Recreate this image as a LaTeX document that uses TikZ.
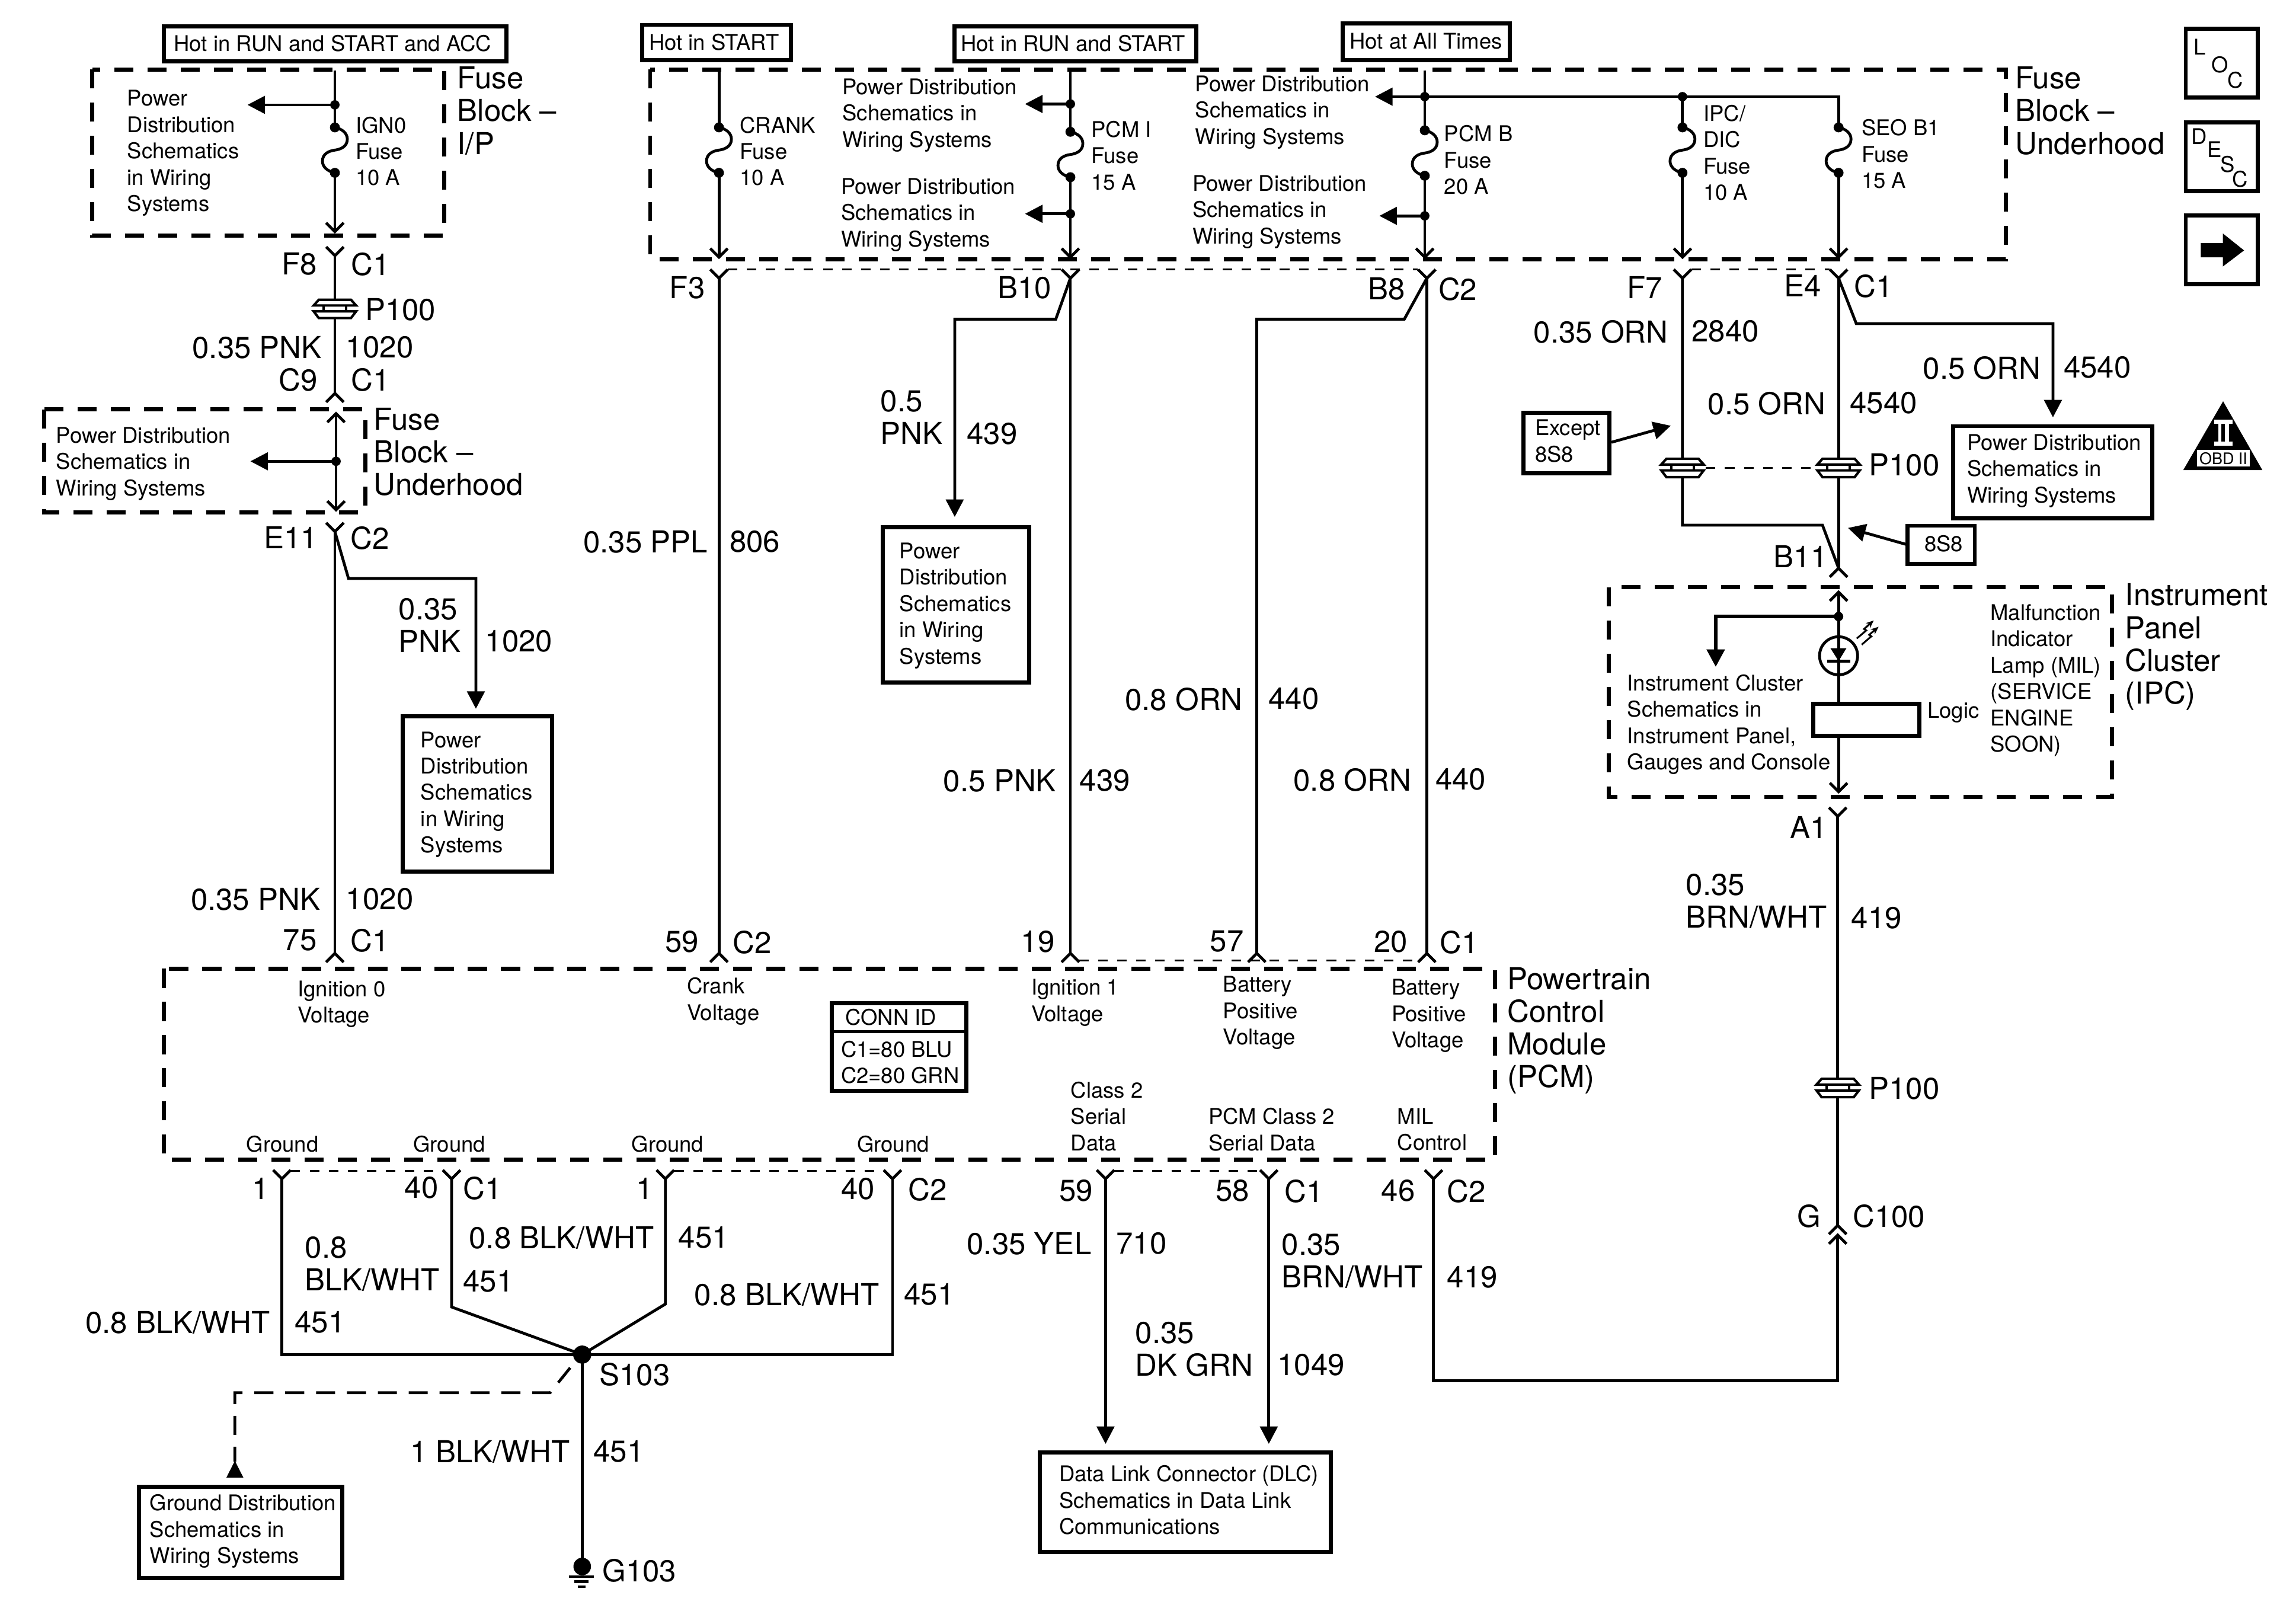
\documentclass[tikz,border=0pt]{standalone}
\usepackage{fontspec}
\setmainfont{TeX Gyre Heros}
\usetikzlibrary{arrows.meta}
\newcount\lblcount
\tikzset{
  wire/.style={line width=1.1pt,line join=miter},
  solidarrow/.style={wire,-{Triangle[length=6.8pt,width=6.8pt]}},
  openarrow/.style={wire,-{Straight Barb[length=3.4pt,width=6.8pt,line width=1.1pt]}},
  thindash/.style={line width=0.6pt,dash pattern=on 3.7pt off 3.7pt},
  dashbox/.style={line width=1.6pt,dash pattern=on 7.4pt off 5.5pt},
  gnddash/.style={line width=1.1pt,dash pattern=on 7.4pt off 4.6pt},
  solidbox/.style={line width=1.6pt},
  bigtxt/.style={anchor=north west,inner sep=0pt,align=left,font=\fontsize{11.75}{12.7}\selectfont},
  smalltxt/.style={anchor=north west,inner sep=0pt,align=left,font=\fontsize{8.4}{10.24}\selectfont},
  pics/fuse/.style={code={
    \fill (0,0) circle[radius=3.4];
    \fill (0,31) circle[radius=3.4];
    \draw[wire] (0,0) .. controls (5,1) and (8.5,4) .. (8.5,8) .. controls (8.5,13) and (4,15) .. (0,15.5)
      .. controls (-4,16) and (-8.5,18) .. (-8.5,23) .. controls (-8.5,27) and (-5,30) .. (0,31);
  }},
  pics/yfork/.style={code={\draw[wire] (-6,-6)--(0,0)--(6,-6);}},
  pics/afork/.style={code={\draw[wire] (-6,6)--(0,0)--(6,6);}},
  pics/plug/.style={code={
    \fill[white] (-14.5,-6.5) rectangle (14.5,6.5);
    \draw[line width=0.95pt,line join=miter] (-14.5,-2.4)--(-11,-6.3)--(11,-6.3)--(14.5,-2.4)--cycle;
    \draw[line width=0.95pt,line join=miter] (-14.5,1.6)--(-11,6.2)--(11,6.2)--(14.5,1.6)--cycle;
    \draw[line width=0.95pt] (-7.7,-2.4)--(-7.7,1.6) (7.7,-2.4)--(7.7,1.6);
  }},
}
\newcommand{\Bt}[3]{\global\advance\lblcount by 1
  \node[bigtxt,name=t\the\lblcount] at (#1,#2-8.8) {#3};}
\newcommand{\St}[3]{\global\advance\lblcount by 1
  \node[smalltxt,name=t\the\lblcount] at (#1,#2-6.7) {#3};}
\newcommand{\Dbox}[5]{\coordinate (#1-a) at (#2,#3); \coordinate (#1-b) at (#4,#5);
  \draw[dashbox] (#1-a) rectangle (#1-b);}
\newcommand{\Sbox}[5]{\coordinate (#1-a) at (#2,#3); \coordinate (#1-b) at (#4,#5);
  \draw[solidbox] (#1-a) rectangle (#1-b);}
\begin{document}
\begin{tikzpicture}[x=0.02cm,y=-0.02cm]
\useasboundingbox (0,0) rectangle (1568,1099.7);
% ---- top labelled boxes
\Sbox{hotA}{112}{18}{346}{42}
\St{118.5}{30.5}{Hot in RUN and START and ACC}
\Sbox{hotB}{438.5}{17}{540}{41}
\St{443}{29.5}{Hot in START}
\Sbox{hotC}{652}{18}{817}{42}
\St{656}{30.5}{Hot in RUN and START}
\Sbox{hotD}{917}{16}{1031}{41}
\St{921.5}{29}{Hot at All Times}
% ---- dashed containers
\Dbox{ip}{63}{47.5}{303.5}{161}
\Dbox{uh}{30}{279.5}{249.5}{350}
\Dbox{ub}{444}{47.5}{1370}{177}
\Dbox{pcm}{112}{661.5}{1021}{792}
\Dbox{ipc}{1098.6}{401}{1442.4}{544}
% ---- fuse block I/P
\coordinate (a0) at (228.7,48); \coordinate (a1) at (228.7,71.6); \coordinate (a2) at (228.7,87);
\coordinate (a3) at (228.7,118); \coordinate (a4) at (228.7,159.5); \coordinate (a1t) at (169,71.6);
\draw[wire] (a0)--(a2);
\draw[openarrow] (a3)--(a4);
\fill (a1) circle[radius=3.2];
\draw[solidarrow] (a1)--(a1t);
\pic at (a2) {fuse};
\St{86.6}{68}{Power\\Distribution\\Schematics\\in Wiring\\Systems}
\St{242.6}{86}{IGN0\\Fuse\\10 A}
\Bt{312}{54}{Fuse\\Block –\\I/P}
% ---- F8 to C9
\coordinate (f8) at (228.7,174.6); \coordinate (c9) at (228.7,268.6); \coordinate (p1) at (228.7,211);
\draw[wire] (f8)--(c9);
\pic at (f8) {yfork};
\pic at (c9) {afork};
\pic at (p1) {plug};
\Bt{192}{181}{F8}
\Bt{239.5}{181}{C1}
\Bt{249}{212}{P100}
\Bt{131}{238}{0.35 PNK}
\Bt{236}{238}{1020}
\Bt{190}{260}{C9}
\Bt{239.5}{260}{C1}
% ---- fuse block underhood (left)
\coordinate (b0) at (229.5,349.5); \coordinate (b1) at (229.5,281); \coordinate (b2) at (229.5,315); \coordinate (b2t) at (171,315);
\draw[openarrow] (b2)--(b1);
\draw[openarrow] (b2)--(b0);
\fill (b2) circle[radius=3.2];
\draw[solidarrow] (b2)--(b2t);
\St{38}{298}{Power Distribution\\Schematics in\\Wiring Systems}
\Bt{255}{287}{Fuse\\Block –\\Underhood}
% ---- E11 to pin 75
\coordinate (e11) at (228.7,363); \coordinate (p75) at (228.7,651);
\draw[wire] (e11)--(p75);
\pic at (e11) {yfork};
\pic at (p75) {afork};
\coordinate (e1b) at (238,395); \coordinate (e1c) at (325,395); \coordinate (e1d) at (325,484);
\draw[solidarrow] (e11)--(e1b)--(e1c)--(e1d);
\Bt{180}{368}{E11}
\Bt{239}{368}{C2}
\Bt{272}{417}{0.35\\PNK}
\Bt{331}{439}{1020}
\Sbox{pdA}{275}{489}{377}{595}
\St{287}{506}{Power\\Distribution\\Schematics\\in Wiring\\Systems}
\Bt{130}{615}{0.35 PNK}
\Bt{236}{615}{1020}
\Bt{193}{643}{75}
\Bt{239}{643}{C1}
% ---- CRANK
\coordinate (cr0) at (491,48); \coordinate (cr1) at (491,87); \coordinate (cr2) at (491,118); \coordinate (cr3) at (491,177);
\draw[wire] (cr0)--(cr1);
\draw[openarrow] (cr2)--(cr3);
\pic at (cr1) {fuse};
\St{505}{86}{CRANK\\Fuse\\10 A}
\coordinate (f3) at (491,190); \coordinate (p59) at (491,651);
\draw[wire] (f3)--(p59);
\pic at (f3) {yfork};
\pic at (p59) {afork};
\Bt{457}{197}{F3}
\Bt{398}{371}{0.35 PPL}
\Bt{498}{371}{806}
\Bt{454}{644}{59}
\Bt{500}{644}{C2}
% ---- PCM I
\coordinate (pi0) at (731,48); \coordinate (pi1) at (731,71); \coordinate (pi2) at (731,90); \coordinate (pi3) at (731,121);
\coordinate (pi4) at (731,146); \coordinate (pi5) at (731,177); \coordinate (pi1t) at (700,71); \coordinate (pi4t) at (700,146);
\draw[wire] (pi0)--(pi2);
\draw[openarrow] (pi3)--(pi5);
\pic at (pi2) {fuse};
\fill (pi1) circle[radius=3.2]; \fill (pi4) circle[radius=3.2];
\draw[solidarrow] (pi1)--(pi1t);
\draw[solidarrow] (pi4)--(pi4t);
\St{575}{60}{Power Distribution\\Schematics in\\Wiring Systems}
\St{574}{128}{Power Distribution\\Schematics in\\Wiring Systems}
\St{745}{89}{PCM I\\Fuse\\15 A}
\coordinate (b10) at (731,190); \coordinate (p19) at (731,651);
\draw[wire] (b10)--(p19);
\pic at (b10) {yfork};
\pic at (p19) {afork};
\coordinate (b1a) at (721,218); \coordinate (b1b) at (652,218); \coordinate (b1c) at (652,353);
\draw[solidarrow] (b10)--(b1a)--(b1b)--(b1c);
\Bt{681}{197}{B10}
\Bt{601}{275}{0.5\\PNK}
\Bt{660}{297}{439}
\Sbox{pdB}{603}{360}{703}{466}
\St{614}{377}{Power\\Distribution\\Schematics\\in Wiring\\Systems}
\Bt{644}{534}{0.5 PNK}
\Bt{737}{534}{439}
\Bt{697}{644}{19}
% ---- PCM B and bus
\coordinate (pb0) at (973,48); \coordinate (pb1) at (973,66); \coordinate (pb2) at (973,89); \coordinate (pb3) at (973,120);
\coordinate (pb4) at (973,147.4); \coordinate (pb5) at (973,177); \coordinate (pb1t) at (939,66); \coordinate (pb4t) at (942,147.4);
\coordinate (bus1) at (1149,66); \coordinate (bus2) at (1255.6,66);
\draw[wire] (pb0)--(pb2);
\draw[openarrow] (pb3)--(pb5);
\pic at (pb2) {fuse};
\fill (pb1) circle[radius=3.2]; \fill (pb4) circle[radius=3.2]; \fill (bus1) circle[radius=3.2];
\draw[solidarrow] (pb1)--(pb1t);
\draw[solidarrow] (pb4)--(pb4t);
\draw[wire] (pb1)--(bus2)--(1255.6,87);
\St{816}{58}{Power Distribution\\Schematics in\\Wiring Systems}
\St{814}{126}{Power Distribution\\Schematics in\\Wiring Systems}
\St{986}{92}{PCM B\\Fuse\\20 A}
\coordinate (b8) at (974.4,190); \coordinate (p20) at (974.4,651);
\draw[wire] (b8)--(p20);
\pic at (b8) {yfork};
\pic at (p20) {afork};
\coordinate (b8a) at (959,218); \coordinate (b8b) at (858.3,218); \coordinate (p57) at (858.3,651);
\draw[wire] (b8)--(b8a)--(b8b)--(p57);
\pic at (p57) {afork};
\Bt{934}{198}{B8}
\Bt{982}{198}{C2}
\Bt{768}{478}{0.8 ORN}
\Bt{866}{478}{440}
\Bt{883}{533}{0.8 ORN}
\Bt{980}{533}{440}
\Bt{826}{644}{57}
\Bt{938}{644}{20}
\Bt{983}{644}{C1}
\draw[thindash] (497,184)--(968,184);
\draw[thindash] (737,656)--(968,656);
% ---- IPC/DIC and SEO B1
\coordinate (ip1) at (1149,87); \coordinate (ip2) at (1149,118); \coordinate (ip3) at (1149,177);
\coordinate (se1) at (1255.6,87); \coordinate (se2) at (1255.6,118); \coordinate (se3) at (1255.6,177);
\draw[wire] (bus1)--(ip1);
\draw[openarrow] (ip2)--(ip3);
\draw[openarrow] (se2)--(se3);
\pic at (ip1) {fuse};
\pic at (se1) {fuse};
\St{1163}{78}{IPC/\\DIC\\Fuse\\10 A}
\St{1271}{88}{SEO B1\\Fuse\\15 A}
\Bt{1376}{54}{Fuse\\Block –\\Underhood}
% ---- F7, E4 etc
\coordinate (f7) at (1149,190); \coordinate (e4) at (1255.6,190);
\coordinate (b11) at (1255.6,388);
\coordinate (f7a) at (1149,358.6); \coordinate (f7b) at (1244.6,358.6);
\draw[wire] (f7)--(f7a)--(f7b)--(b11);
\draw[wire] (e4)--(b11);
\pic at (f7) {yfork};
\pic at (e4) {yfork};
\pic at (b11) {afork};
\draw[thindash] (1155,184)--(1249.6,184);
\coordinate (pl) at (1149,319.6); \coordinate (pr) at (1255.6,319.6);
\draw[thindash] (1165,319.6)--(1239,319.6);
\pic at (pl) {plug};
\pic at (pr) {plug};
\coordinate (e4a) at (1267.7,221); \coordinate (e4b) at (1402,221); \coordinate (e4c) at (1402,285);
\draw[solidarrow] (e4)--(e4a)--(e4b)--(e4c);
\Bt{1111}{197}{F7}
\Bt{1218}{196}{E4}
\Bt{1266}{196}{C1}
\Bt{1047}{227}{0.35 ORN}
\Bt{1155}{227}{2840}
\Bt{1313}{252}{0.5 ORN}
\Bt{1409}{252}{4540}
\Bt{1166}{276}{0.5 ORN}
\Bt{1263}{276}{4540}
\Bt{1276}{318}{P100}
\Bt{1211}{381}{B11}
\Sbox{exc}{1040.5}{282}{1099}{323}
\St{1048}{293}{Except\\8S8}
\Sbox{eight}{1302.7}{359}{1348.6}{385}
\St{1314}{372}{8S8}
\Sbox{pdC}{1334}{291}{1470}{354}
\St{1343}{303}{Power Distribution\\Schematics in\\Wiring Systems}
\coordinate (excA) at (1100.5,302); \coordinate (excB) at (1141,290.7);
\coordinate (eigA) at (1302.7,372); \coordinate (eigB) at (1262,360.5);
\draw[solidarrow] (excA)--(excB);
\draw[solidarrow] (eigA)--(eigB);
% ---- right icons
\Sbox{loc}{1492.7}{19.5}{1542}{66.7}
\St{1498}{33}{L}
\St{1510}{45}{O}
\St{1521}{55.5}{C}
\Sbox{desc}{1492.7}{83.5}{1542}{130.5}
\St{1496}{94}{D}
\St{1507}{103}{E}
\St{1516}{113}{S}
\St{1524}{123}{C}
\Sbox{nextb}{1492.7}{147}{1542}{194}
\fill (1503,166)--(1518,166)--(1518,159.4)--(1532.5,171)--(1518,182)--(1518,175.7)--(1503,175.7)--cycle;
\fill (1518.2,274)--(1545,321)--(1491,321)--cycle;
\fill[white] (1500.4,307.3) rectangle (1536.4,318.5);
\fill[white] (1512,286.5) rectangle (1524.6,289.2);
\fill[white] (1512,301.6) rectangle (1524.6,304.3);
\fill[white] (1514.9,289) rectangle (1517.1,302);
\fill[white] (1519.6,289) rectangle (1522.3,302);
\node[anchor=center,inner sep=0pt,font=\fontsize{6.2}{7}\selectfont] (obd) at (1518.4,313) {OBD II};
% ---- instrument panel cluster
\coordinate (i0) at (1255.6,403); \coordinate (i1) at (1255.6,421); \coordinate (i2) at (1255.6,434.5);
\coordinate (i3) at (1255.6,461); \coordinate (i4) at (1255.6,480); \coordinate (i5) at (1255.6,503.4); \coordinate (i6) at (1255.6,542);
\coordinate (i1a) at (1171.7,421); \coordinate (i1b) at (1171.7,455.4);
\draw[openarrow] (i1)--(i0);
\draw[wire] (i1)--(i2);
\draw[wire] (i3)--(i4);
\draw[openarrow] (i5)--(i6);
\fill (i1) circle[radius=3.2];
\draw[solidarrow,line width=1.5pt] (i1)--(i1a)--(i1b);
\draw[wire] (1255.6,447.8) circle[radius=13];
\draw[wire] (i2)--(i3);
\fill (1250,442.6)--(1261,442.6)--(1255.6,451.4)--cycle;
\draw[wire] (1248,451.4)--(1263.5,451.4);
\draw[line width=0.7pt,-{Stealth[length=3pt,width=2.5pt]}] (1268,436)--(1274.5,430.5)--(1273,429.5)--(1279.6,423.7);
\draw[line width=0.7pt,-{Stealth[length=3pt,width=2.5pt]}] (1271.4,440.2)--(1278,434.5)--(1276.5,433.5)--(1282.9,428);
\draw[line width=1.6pt] (1238.5,480.5) rectangle (1310.8,502.5);
\St{1316}{486}{Logic}
\St{1111}{467}{Instrument Cluster\\Schematics in\\Instrument Panel,\\Gauges and Console}
\St{1359}{419}{Malfunction\\Indicator\\Lamp (MIL)\\(SERVICE\\ENGINE\\SOON)}
\Bt{1451}{407}{Instrument\\Panel\\Cluster\\(IPC)}
% ---- A1 to C100
\coordinate (a1c) at (1255,557.4); \coordinate (g1) at (1255,836.8); \coordinate (g2) at (1255,843.4); \coordinate (p3) at (1255,743);
\coordinate (mil) at (979,805); \coordinate (mil1) at (979,943); \coordinate (mil2) at (1255,943);
\draw[wire] (a1c)--(g1);
\pic at (a1c) {yfork};
\pic at (g1) {afork};
\pic at (g2) {afork};
\pic at (p3) {plug};
\draw[wire] (mil)--(mil1)--(mil2)--(g2);
\pic at (mil) {yfork};
\Bt{1222}{566}{A1}
\Bt{1151}{605}{0.35\\BRN/WHT}
\Bt{1264}{628}{419}
\Bt{1276}{744}{P100}
\Bt{1227}{831}{G}
\Bt{1265}{831}{C100}
% ---- PCM text
\St{203}{676}{Ignition 0\\Voltage}
\St{469}{674}{Crank\\Voltage}
\St{704}{675}{Ignition 1\\Voltage}
\St{835}{673}{Battery\\Positive\\Voltage}
\St{950}{675}{Battery\\Positive\\Voltage}
\Sbox{conn}{568}{685}{660}{745}
\coordinate (cl1) at (568,704.5); \coordinate (cl2) at (660,704.5);
\draw[line width=1.1pt] (cl1)--(cl2);
\St{577}{695.5}{CONN ID}
\St{574}{717}{C1=80 BLU\\C2=80 GRN}
\Bt{1029}{669}{Powertrain\\Control\\Module\\(PCM)}
\St{731}{745}{Class 2\\Serial\\Data}
\St{825}{763}{PCM Class 2\\Serial Data}
\St{954}{763}{MIL\\Control}
\St{168}{782}{Ground}
\St{282}{782}{Ground}
\St{431}{782}{Ground}
\St{585}{782}{Ground}
% ---- grounds
\coordinate (g192) at (192.5,805); \coordinate (g308) at (308.4,805); \coordinate (g454) at (454.4,805); \coordinate (g609) at (609.5,805);
\coordinate (s103) at (397.6,925);
\coordinate (g192a) at (192.5,925); \coordinate (g308a) at (308.4,892.5); \coordinate (g454a) at (454.4,890.5); \coordinate (g609a) at (609.5,925);
\draw[wire] (g192)--(g192a)--(s103);
\draw[wire] (g308)--(g308a)--(s103);
\draw[wire] (g454)--(g454a)--(s103);
\draw[wire] (g609)--(g609a)--(s103);
\pic at (g192) {yfork};
\pic at (g308) {yfork};
\pic at (g454) {yfork};
\pic at (g609) {yfork};
\draw[thindash] (198.5,799.5)--(302.4,799.5);
\draw[thindash] (460.4,799.5)--(603.5,799.5);
\fill (s103) circle[radius=6.2];
\coordinate (g103) at (397.6,1069.7);
\draw[wire] (s103)--(g103);
\fill (g103) circle[radius=6];
\draw[line width=1pt] (388.5,1076.5)--(405.6,1076.5) (392,1080)--(402,1080) (394.5,1083.5)--(400,1083.5);
\coordinate (gd1) at (389.4,934); \coordinate (gd2) at (375.7,951); \coordinate (gd3) at (160.4,951); \coordinate (gd4) at (160.4,998);
\draw[gnddash] (gd1)--(gd2)--(gd3)--(gd4);
\fill (160.4,997.5)--(166.2,1009)--(154.6,1009)--cycle;
\Sbox{gnd}{95}{1015.2}{233.7}{1077.6}
\St{102}{1027}{Ground Distribution\\Schematics in\\Wiring Systems}
\Bt{172}{813}{1}
\Bt{276}{812}{40}
\Bt{316}{812}{C1}
\Bt{434}{813}{1}
\Bt{574}{813}{40}
\Bt{620}{813}{C2}
\Bt{58}{904}{0.8 BLK/WHT}
\Bt{201}{904}{451}
\Bt{208}{853}{0.8\\BLK/WHT}
\Bt{316}{876}{451}
\Bt{320}{846}{0.8 BLK/WHT}
\Bt{463}{846}{451}
\Bt{474}{885}{0.8 BLK/WHT}
\Bt{617}{885}{451}
\Bt{409}{939}{S103}
\Bt{280}{992}{1 BLK/WHT}
\Bt{405}{992}{451}
\Bt{411}{1073}{G103}
% ---- data link
\coordinate (d59) at (755,805); \coordinate (d58) at (866.5,805); \coordinate (d59a) at (755,986); \coordinate (d58a) at (866.5,986);
\draw[solidarrow] (d59)--(d59a);
\draw[solidarrow] (d58)--(d58a);
\pic at (d59) {yfork};
\pic at (d58) {yfork};
\draw[thindash] (761,799.5)--(860.5,799.5);
\Sbox{dlc}{710}{992}{909}{1060}
\St{723}{1007}{Data Link Connector (DLC)\\Schematics in Data Link\\Communications}
\Bt{723}{814}{59}
\Bt{830}{814}{58}
\Bt{877}{814}{C1}
\Bt{943}{814}{46}
\Bt{988}{814}{C2}
\Bt{660}{850}{0.35 YEL}
\Bt{762}{850}{710}
\Bt{875}{851}{0.35\\BRN/WHT}
\Bt{988}{873}{419}
\Bt{775}{911}{0.35\\DK GRN}
\Bt{872}{933}{1049}
\end{tikzpicture}
\end{document}
